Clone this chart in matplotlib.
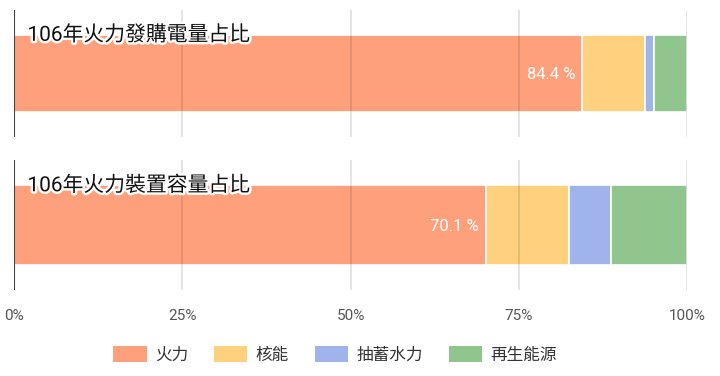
import matplotlib
matplotlib.use("Agg")
import matplotlib.pyplot as plt
import matplotlib.patheffects as pe
from matplotlib.patches import Patch

plt.rcParams['font.family'] = ['Roboto', 'Noto Sans CJK TC', 'DejaVu Sans']

titles = ["106年火力發購電量占比", "106年火力裝置容量占比"]
series = ["火力", "核能", "抽蓄水力", "再生能源"]
values = [
    [84.4, 9.4, 1.3, 4.9],
    [70.1, 12.3, 6.3, 11.3],
]
labels = ["84.4 %", "70.1 %"]
tick_vals = [0, 25, 50, 75, 100]
tick_labels = ["0%", "25%", "50%", "75%", "100%"]
colors = ["#FFA07C", "#FFD07E", "#A0B4EB", "#91C58E"]

fig = plt.figure(figsize=(7.2, 3.76), dpi=100)
W, H = 720, 376
boxes = [(10, 137), (160, 290)]
left, right = 14, 687

for i, (top, bot) in enumerate(boxes):
    ax = fig.add_axes([left / W, 1 - bot / H, (right - left) / W, (bot - top) / H])
    ax.set_xlim(0, 100)
    ax.set_ylim(0, 1)
    start = 0
    for v, c in zip(values[i], colors):
        ax.barh(0.5, v, left=start, height=0.61, color=c, edgecolor='white',
                linewidth=1.2, zorder=2)
        start += v
    for t in tick_vals[1:]:
        ax.axvline(t, color='black', alpha=0.12, linewidth=1.2, zorder=3)
    ax.axvline(0, color='#444444', linewidth=1.5, zorder=4)
    for s in ax.spines.values():
        s.set_visible(False)
    ax.set_yticks([])
    if i == 1:
        ax.set_xticks(tick_vals)
        ax.set_xticklabels(tick_labels, fontsize=11, color='#555555')
        ax.tick_params(axis='x', length=0, pad=14)
    else:
        ax.set_xticks([])
    ax.text(2.0, 0.805, titles[i], fontsize=15, color='#111111', va='center', ha='left',
            family=['Roboto', 'Noto Sans CJK TC'], zorder=6,
            path_effects=[pe.withStroke(linewidth=3.5, foreground='white')])
    ax.text(values[i][0] - 1.0, 0.49, labels[i],
            fontsize=12, color='white', ha='right', va='center', zorder=5)

handles = [Patch(facecolor=c, edgecolor='none') for c in colors]
fig.legend(handles, series, loc='center left', bbox_to_anchor=(105 / W, 1 - 355 / H), ncol=4,
           frameon=False, handlelength=2.0, handleheight=1.1, borderpad=0,
           columnspacing=1.55, handletextpad=0.5,
           prop={'family': ['Noto Sans CJK TC'], 'size': 12})
for t in fig.legends[0].get_texts():
    t.set_color('#333333')

fig.savefig("out.png", dpi=100)
